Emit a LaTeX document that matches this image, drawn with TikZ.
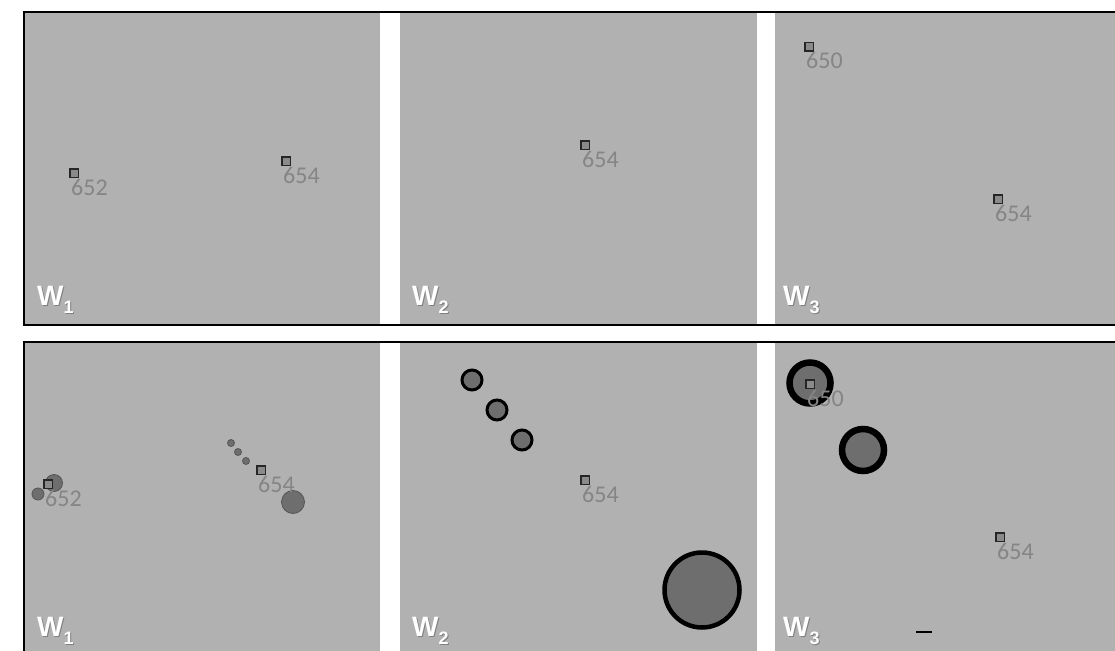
\documentclass[tikz,border=0pt]{standalone}
\usepackage{fontspec}
\setmainfont{Carlito}
\newfontfamily\wfont{Liberation Sans}[BoldFont={Liberation Sans Bold}]
\definecolor{panelgray}{HTML}{B1B1B1}
\definecolor{numgray}{HTML}{858585}
\definecolor{sqfill}{HTML}{8A8A8A}
\definecolor{blobfill}{HTML}{6E6E6E}
\definecolor{blobedge}{HTML}{555555}
\tikzset{
  frame/.style={draw=black, line width=2.6pt},
  panel/.style={fill=panelgray, draw=none},
  sq/.style={rectangle, draw=black!85, line width=1.5pt, fill=sqfill, minimum size=8.5pt, inner sep=0pt},
  num/.style={text=numgray, font=\fontsize{24}{24}\selectfont, anchor=base west, inner sep=0pt},
  wlab/.style={text=white, font=\wfont\bfseries\fontsize{28}{28}\selectfont, anchor=base west, inner sep=0pt},
  wshadow/.style={text=black!50, font=\wfont\bfseries\fontsize{28}{28}\selectfont, anchor=base west, inner sep=0pt},
  softblob/.style={fill=blobfill, draw=blobedge, line width=0.8pt},
  ringthin/.style={fill=blobfill, draw=black, line width=3pt},
  ringthick/.style={fill=blobfill, draw=black, line width=6.5pt}
}
\newcommand{\wtext}[1]{W\raisebox{-8pt}{\fontsize{18}{18}\selectfont #1}}
\begin{document}
\begin{tikzpicture}[x=1pt,y=-1pt]
\useasboundingbox (0,0) rectangle (1115,650);
\clip (0,0) rectangle (1115,650);
% panels
\foreach \ya/\yb in {13/324, 343/660}{
  \fill[panel] (25,\ya) rectangle (380,\yb);
  \fill[panel] (400,\ya) rectangle (757,\yb);
  \fill[panel] (775,\ya) rectangle (1130,\yb);
}
% frames
\draw[frame] (24,12) rectangle (1130,325);
\draw[frame] (24,342) rectangle (1130,680);

% ---------- bottom row blobs ----------
\draw[softblob] (54,483) circle[radius=8.5pt];
\draw[softblob] (38,494) circle[radius=6pt];
\draw[softblob] (231,443) circle[radius=3.5pt];
\draw[softblob] (238,452) circle[radius=3.5pt];
\draw[softblob] (246,461) circle[radius=3.5pt];
\draw[softblob] (293,502) circle[radius=11.5pt];

\draw[ringthin] (472,380) circle[radius=10pt];
\draw[ringthin] (497,410) circle[radius=10pt];
\draw[ringthin] (522,440) circle[radius=10pt];
\draw[ringthin, line width=4.5pt] (702,590) circle[radius=37.5pt];

\draw[ringthick] (810,383) circle[radius=20.5pt];
\draw[ringthick] (863,450) circle[radius=21pt];

\coordinate (dashL) at (916,632);
\coordinate (dashR) at (932,632);
\draw[line width=1.5pt] (dashL) -- (dashR);

% ---------- squares and numbers ----------
\foreach \n/\x/\y/\t in {a/74/173/652, b/286/161/654, c/585/145/654, d/809/47/650, e/998/199/654,
                         f/48/484/652, g/261/470/654, h/585/480/654, i/810/384/650, j/1000/537/654}{
  \node[num] (lab\n) at (\x-3,\y+22) {\t};
  \node[sq] (sq\n) at (\x,\y) {};
}

% ---------- W labels ----------
\foreach \n/\x/\y/\s in {wa/37/305/1, wb/412/305/2, wc/783/305/3, wd/37/636/1, we/412/636/2, wf/783/636/3}{
  \node[wshadow] (\n s) at (\x+1,\y+1) {\wtext{\s}};
  \node[wlab] (\n) at (\x,\y) {\wtext{\s}};
}
\end{tikzpicture}
\end{document}
